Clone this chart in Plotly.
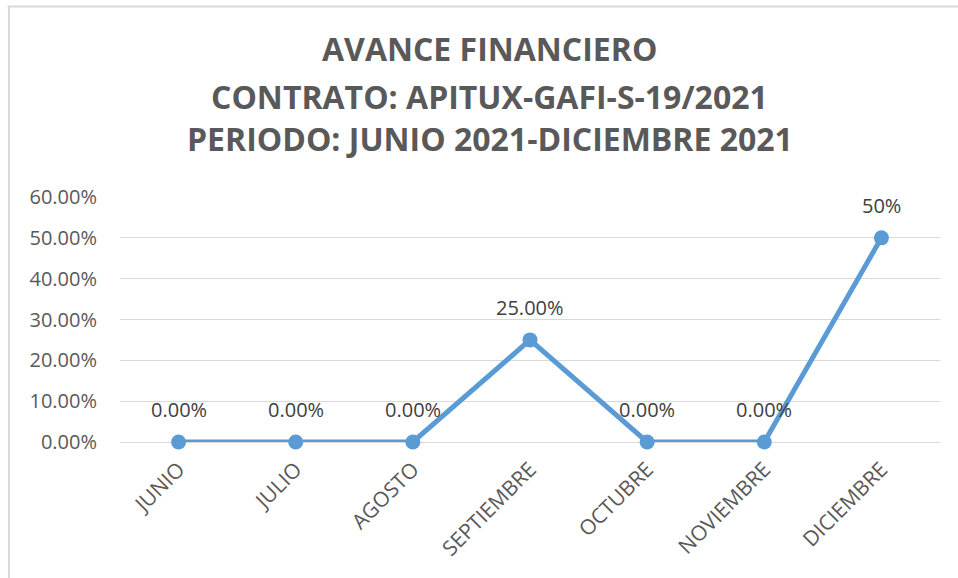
import plotly.graph_objects as go

months = ["JUNIO", "JULIO", "AGOSTO", "SEPTIEMBRE", "OCTUBRE", "NOVIEMBRE", "DICIEMBRE"]
avance = [0.0, 0.0, 0.0, 0.25, 0.0, 0.0, 0.50]
labels = ["0.00%", "0.00%", "0.00%", "25.00%", "0.00%", "0.00%", "50%"]
y_ticks = [0, 0.1, 0.2, 0.3, 0.4, 0.5, 0.6]
y_tick_text = ["0.00%", "10.00%", "20.00%", "30.00%", "40.00%", "50.00%", "60.00%"]
title_lines = ["AVANCE FINANCIERO", "CONTRATO: APITUX-GAFI-S-19/2021", "PERIODO: JUNIO 2021-DICIEMBRE 2021"]
title_y = [1.608, 1.412, 1.237]

BLUE = "#5B9BD5"
FONT = "Open Sans"

fig = go.Figure()
fig.add_trace(go.Scatter(
    x=months, y=avance, mode="lines+markers",
    line=dict(color=BLUE, width=5),
    marker=dict(color=BLUE, size=15),
    cliponaxis=False,
    hoverinfo="skip", showlegend=False,
))

for m, v, t in zip(months, avance, labels):
    fig.add_annotation(x=m, y=v, text=t, showarrow=False, yanchor="bottom",
                       yshift=17, font=dict(family=FONT, size=20, color="#404040"))

for t, yy in zip(title_lines, title_y):
    fig.add_annotation(xref="paper", yref="paper", x=0.451, y=yy, text="<b>" + t + "</b>",
                       showarrow=False, xanchor="center", yanchor="middle",
                       font=dict(family=FONT, size=32, color="#595959"))

fig.update_layout(
    width=958, height=578,
    margin=dict(l=120, r=18, t=197, b=136),
    paper_bgcolor="white", plot_bgcolor="white",
    font=dict(family=FONT, color="#595959"),
    xaxis=dict(type="category", range=[-0.5, 6.5], showgrid=False, showline=False,
               ticks="", tickangle=-45, ticklabelstandoff=10,
               tickfont=dict(size=21, color="#595959")),
    yaxis=dict(range=[0, 0.6], tickvals=y_ticks, ticktext=y_tick_text,
               showgrid=True, gridcolor="#D9D9D9", gridwidth=1, zeroline=True,
               zerolinecolor="#D9D9D9", zerolinewidth=1, showline=False, ticks="",
               ticklabelstandoff=22, tickfont=dict(size=20, color="#595959")),
    shapes=[
        dict(type="line", xref="paper", yref="paper", x0=-0.137, x1=1.03, y0=1.7776, y1=1.7776,
             line=dict(color="#D9D9D9", width=2)),
        dict(type="line", xref="paper", yref="paper", x0=-0.1354, x1=-0.1354, y0=-0.6, y1=1.78,
             line=dict(color="#D9D9D9", width=2)),
    ],
)

fig.write_html("out.html", config={"displayModeBar": False},
               post_script="document.body.style.margin='0';")
